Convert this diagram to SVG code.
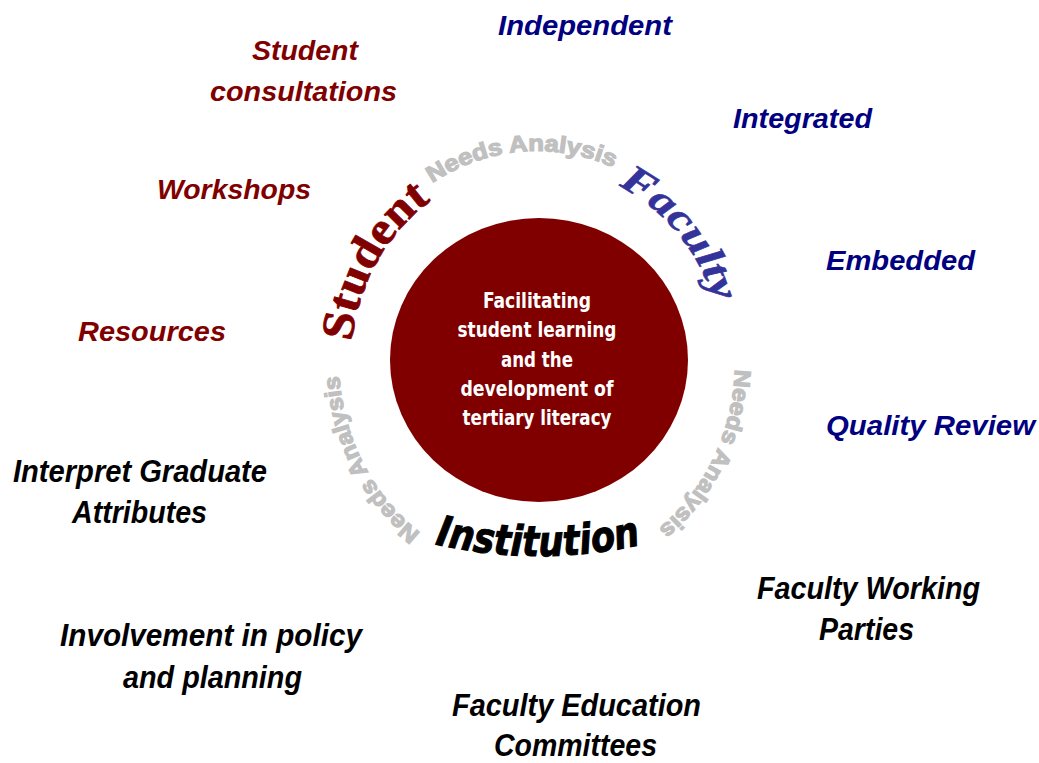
<svg xmlns="http://www.w3.org/2000/svg" xmlns:xlink="http://www.w3.org/1999/xlink" width="1039" height="763" viewBox="0 0 1039 763">
  <style>
    .out { font-family: "Liberation Sans", Arial, sans-serif; font-weight: bold; font-style: italic; font-size: 28px; text-anchor: middle; }
    .red { fill: #800000; }
    .blue { fill: #000080; }
    .blk { fill: #000000; font-size: 32px; }
    .center { font-family: "Liberation Sans Narrow", "DejaVu Sans Condensed", "Liberation Sans", sans-serif; font-weight: bold; font-size: 21px; fill: #ffffff; text-anchor: middle; }
    .needs { font-family: "Liberation Sans", Arial, sans-serif; font-weight: bold; font-size: 23px; fill: #c0c0c0; stroke: #c0c0c0; stroke-width: 1.2px; }
    .arcword { font-family: "Liberation Serif", "DejaVu Serif", serif; font-weight: bold; }
  </style>
  <defs>
    <path id="pNeedsTop" d="M 432.1 183.1 A 198 211 0 0 1 620.7 170.8"/>
    <path id="pNeedsRight" d="M 734.9 369.4 A 198 211 0 0 1 653.4 532.7"/>
    <path id="pNeedsLeft" d="M 420.6 532.7 A 198 211 0 0 1 339.1 369.4"/>
    <path id="pStudent" d="M 352.0 341.5 A 186 196 0 0 1 433.0 199.5"/>
    <path id="pFaculty" d="M 618.5 185.8 A 186 196 0 0 1 715.8 308.0"/>
    <path id="pInstitution" d="M 430 543 A 460 460 0 0 0 648 543"/>
  </defs>
  <rect width="1039" height="763" fill="#ffffff"/>

  <g id="center-node">
    <ellipse cx="539" cy="360" rx="149" ry="142" fill="#800000"/>
    <text class="center" x="537" y="308" textLength="108" lengthAdjust="spacingAndGlyphs">Facilitating</text>
    <text class="center" x="537" y="337" textLength="159" lengthAdjust="spacingAndGlyphs">student learning</text>
    <text class="center" x="537" y="367" textLength="72" lengthAdjust="spacingAndGlyphs">and the</text>
    <text class="center" x="537" y="396" textLength="153" lengthAdjust="spacingAndGlyphs">development of</text>
    <text class="center" x="537" y="425" textLength="149" lengthAdjust="spacingAndGlyphs">tertiary literacy</text>
  </g>

  <g id="needs-analysis-top">
    <text class="needs"><textPath xlink:href="#pNeedsTop" href="#pNeedsTop" textLength="190" lengthAdjust="spacingAndGlyphs">Needs Analysis</textPath></text>
  </g>
  <g id="needs-analysis-right">
    <text class="needs"><textPath xlink:href="#pNeedsRight" href="#pNeedsRight" textLength="182" lengthAdjust="spacingAndGlyphs">Needs Analysis</textPath></text>
  </g>
  <g id="needs-analysis-left">
    <text class="needs"><textPath xlink:href="#pNeedsLeft" href="#pNeedsLeft" textLength="182" lengthAdjust="spacingAndGlyphs">Needs Analysis</textPath></text>
  </g>

  <g id="student-sector">
    <text class="arcword" font-size="46" fill="#800000" stroke="#800000" stroke-width="0.8"><textPath xlink:href="#pStudent" href="#pStudent" textLength="166" lengthAdjust="spacingAndGlyphs">Student</textPath></text>
  </g>
  <g id="faculty-sector">
    <text class="arcword" font-size="40" font-style="italic" fill="#333399" stroke="#333399" stroke-width="0.6"><textPath xlink:href="#pFaculty" href="#pFaculty" textLength="155" lengthAdjust="spacingAndGlyphs">Faculty</textPath></text>
  </g>
  <g id="institution-sector">
    <text font-family="'Liberation Sans Narrow', 'DejaVu Sans Condensed', 'Liberation Sans', sans-serif" font-weight="bold" font-style="italic" font-size="42" fill="#000000" stroke="#000000" stroke-width="1"><textPath xlink:href="#pInstitution" href="#pInstitution" startOffset="5" textLength="208" lengthAdjust="spacingAndGlyphs">Institution</textPath></text>
  </g>

  <g id="student-consultations">
    <text class="out red" x="305" y="60" textLength="106" lengthAdjust="spacingAndGlyphs">Student</text>
    <text class="out red" x="303.5" y="101" textLength="187" lengthAdjust="spacingAndGlyphs">consultations</text>
  </g>
  <g id="workshops">
    <text class="out red" x="234" y="199" textLength="154" lengthAdjust="spacingAndGlyphs">Workshops</text>
  </g>
  <g id="resources">
    <text class="out red" x="152" y="341" textLength="148" lengthAdjust="spacingAndGlyphs">Resources</text>
  </g>

  <g id="independent">
    <text class="out blue" x="585" y="35" textLength="174" lengthAdjust="spacingAndGlyphs">Independent</text>
  </g>
  <g id="integrated">
    <text class="out blue" x="802.5" y="128" textLength="139" lengthAdjust="spacingAndGlyphs">Integrated</text>
  </g>
  <g id="embedded">
    <text class="out blue" x="900.5" y="270" textLength="149" lengthAdjust="spacingAndGlyphs">Embedded</text>
  </g>
  <g id="quality-review">
    <text class="out blue" x="930.5" y="435" textLength="209" lengthAdjust="spacingAndGlyphs">Quality Review</text>
  </g>

  <g id="interpret-graduate-attributes">
    <text class="out blk" x="140" y="482" textLength="254" lengthAdjust="spacingAndGlyphs">Interpret Graduate</text>
    <text class="out blk" x="139.5" y="523" textLength="135" lengthAdjust="spacingAndGlyphs">Attributes</text>
  </g>
  <g id="involvement-policy">
    <text class="out blk" x="211" y="646" textLength="302" lengthAdjust="spacingAndGlyphs">Involvement in policy</text>
    <text class="out blk" x="212.5" y="688" textLength="179" lengthAdjust="spacingAndGlyphs">and planning</text>
  </g>
  <g id="faculty-education-committees">
    <text class="out blk" x="576.5" y="716" textLength="249" lengthAdjust="spacingAndGlyphs">Faculty Education</text>
    <text class="out blk" x="575.5" y="756" textLength="163" lengthAdjust="spacingAndGlyphs">Committees</text>
  </g>
  <g id="faculty-working-parties">
    <text class="out blk" x="868.5" y="599" textLength="223" lengthAdjust="spacingAndGlyphs">Faculty Working</text>
    <text class="out blk" x="866.5" y="640" textLength="95" lengthAdjust="spacingAndGlyphs">Parties</text>
  </g>
</svg>
